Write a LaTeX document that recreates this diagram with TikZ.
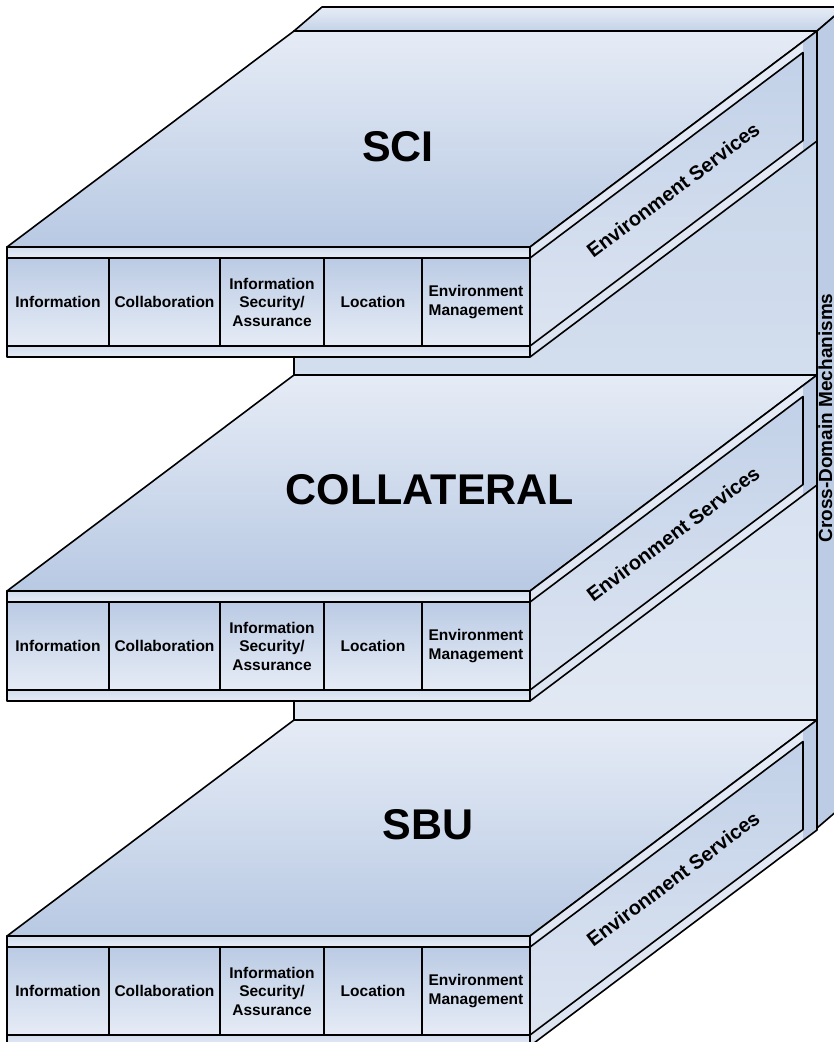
\documentclass[tikz,border=0pt]{standalone}
\usepackage{fontspec}
\setmainfont{Liberation Sans}
\definecolor{paleblue}{HTML}{E6ECF6}
\definecolor{topblue}{HTML}{B8C9E3}
\definecolor{cellblue}{HTML}{BBCBE4}
\definecolor{stripblue}{HTML}{D2DDEE}
\definecolor{sideblue}{HTML}{DCE4F1}
\definecolor{panelblue}{HTML}{C2D1E8}
\definecolor{darkblue}{HTML}{BCCCE5}
\definecolor{midblue}{HTML}{C4D3E8}
\begin{document}
\begin{tikzpicture}[x=1pt, y=-1pt,
        edge/.style={draw=black, line width=1.6pt, line join=round},
        strip/.style={edge, top color=stripblue, bottom color=paleblue},
        cell/.style={edge, top color=cellblue, bottom color=paleblue, inner sep=0pt,
            minimum height=88pt, align=center, font=\fontsize{15.5}{18.5}\selectfont\bfseries},
        envtext/.style={font=\fontsize{20}{24}\selectfont\bfseries, rotate=37},
        leveltext/.style={font=\fontsize{43}{48}\selectfont\bfseries}]
        \useasboundingbox (0,0) rectangle (834,1042);
        \clip (0,0) rectangle (834,1042);

        \draw[edge, top color=paleblue, bottom color=midblue] (294,31) -- (322,7) -- (845,7) -- (817,31) -- cycle;
        \draw[edge, fill=darkblue] (817,31) -- (845,7) -- (845,804) -- (817,828) -- cycle;
        \draw[edge, top color=midblue, bottom color=paleblue] (294,31) rectangle (817,828);
        \node[font=\fontsize{19}{22}\selectfont\bfseries, rotate=90, anchor=base] (cdm) at (832,418) {Cross-Domain Mechanisms};

        \foreach \t/\lx/\ly/\name[count=\i] in {247/398/147/SCI, 591/430/490/COLLATERAL, 936/428/825/SBU} {
            \draw[edge, top color=paleblue, bottom color=topblue] (7,\t) -- (294,\t-216) -- (817,\t-216) -- (530,\t) -- cycle;
            \node[leveltext] (level\i) at (\lx,\ly) {\name};

            \path[top color=paleblue, bottom color=sideblue] (530,\t) -- (817,\t-216) -- (817,\t-106) -- (530,\t+110) -- cycle;
            \fill[darkblue] (803,\t-205.5) -- (817,\t-216) -- (817,\t-106) -- (803,\t-95.5) -- cycle;
            \draw[edge] (530,\t) -- (817,\t-216) -- (817,\t-106) -- (530,\t+110) -- cycle;
            \draw[edge, top color=panelblue, bottom color=sideblue] (530,\t+11) -- (803,\t-194.5) -- (803,\t-106.5) -- (530,\t+99) -- cycle;
            \node[envtext] (env\i) at (673,\t-57) {Environment Services};

            \draw[strip] (7,\t) rectangle (530,\t+11);
            \draw[strip] (7,\t+99) rectangle (530,\t+110);
            \foreach \xa/\xb/\txt[count=\j] in {7/109/Information, 109/220/Collaboration,
                    220/324/{Information\\Security/\\Assurance}, 324/422/Location,
                    422/530/{Environment\\Management}} {
                \node[cell, minimum width={(\xb-\xa)*1pt}] (cell\i\j) at ({(\xa+\xb)/2},\t+55) {\txt};
            }
        }
    \end{tikzpicture}
\end{document}
